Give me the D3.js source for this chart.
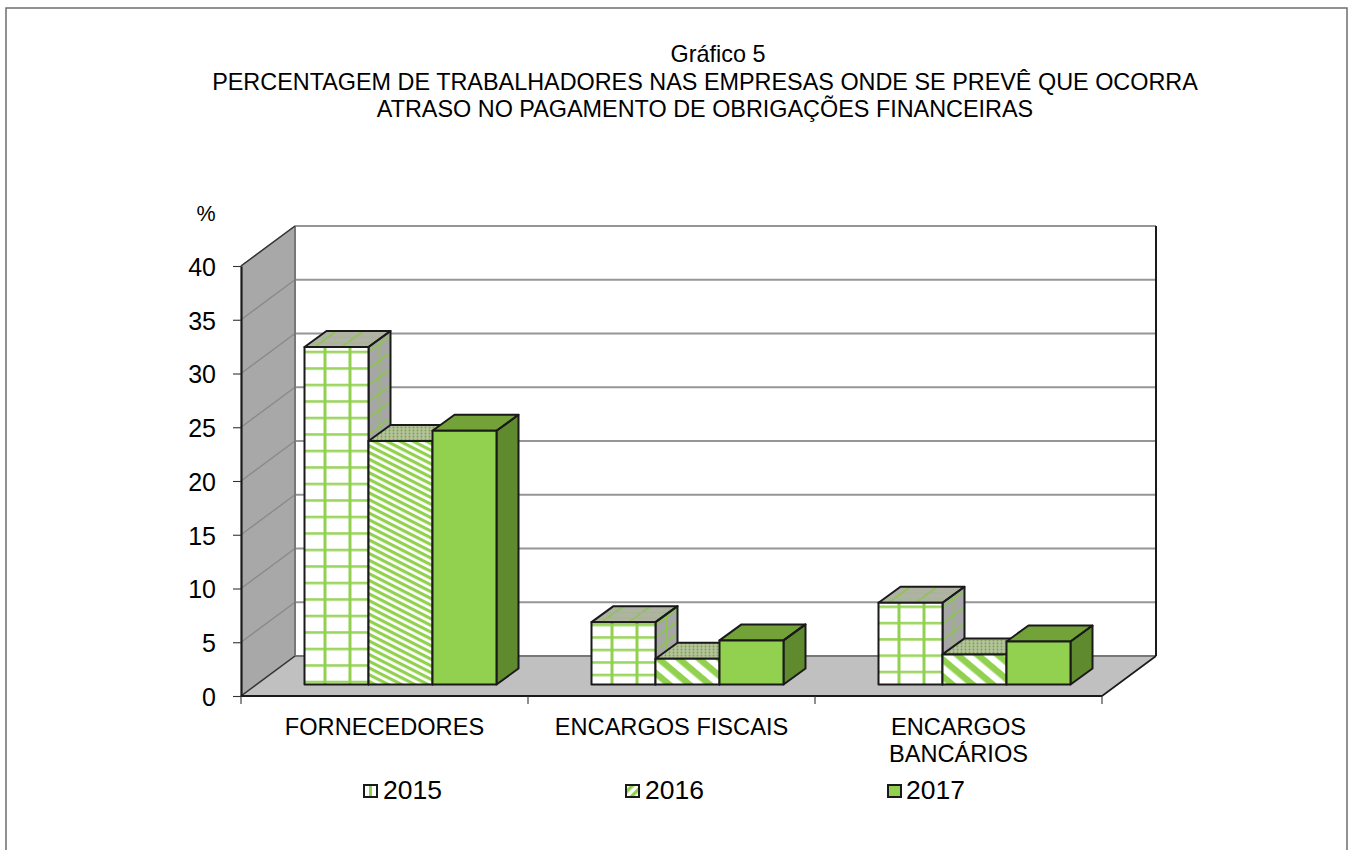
<!DOCTYPE html>
<html><head><meta charset="utf-8">
<script src="https://cdn.jsdelivr.net/npm/d3@7"></script>
<style>html,body{margin:0;padding:0;background:#fff}svg{display:block}text{font-family:"Liberation Sans",Arial,sans-serif;fill:#000}</style>
</head><body><div id="chart"></div>
<script>
const categories = ["FORNECEDORES","ENCARGOS FISCAIS","ENCARGOS|BANCÁRIOS"];
const years = ["2015","2016","2017"];
const values2015 = [31.4,5.8,7.6];
const values2016 = [22.65,2.4,2.8];
const values2017 = [23.6,4.1,4.0];
const yTicks = [0,5,10,15,20,25,30,35,40];
const titleLines = ["Gráfico 5","PERCENTAGEM DE TRABALHADORES NAS EMPRESAS ONDE SE PREVÊ QUE OCORRA","ATRASO NO PAGAMENTO DE OBRIGAÇÕES FINANCEIRAS"];
const series = [values2015,values2016,values2017];

const W=1354,H=850,green="#92d14f",dark1="#73a338",dark2="#5f8a2e",line="#1a1a1a",grid="#969696",hatch="#8fc455";
const svg=d3.select("#chart").append("svg").attr("width",W).attr("height",H);
const defs=svg.append("defs");
function pat(id,w,h,bg,draw,tr){const p=defs.append("pattern").attr("id",id).attr("patternUnits","userSpaceOnUse").attr("width",w).attr("height",h);if(tr)p.attr("patternTransform",tr);p.append("rect").attr("width",w).attr("height",h).attr("fill",bg);draw(p);}

const rowPeriod=[16.5,12.5,16.3], rowPhase=[682,675,672];
rowPeriod.forEach((rp,i)=>{
  pat("grid"+i,287,rp,"#fff",p=>{
    p.append("rect").attr("width",287).attr("height",2.6).attr("fill",green).attr("opacity",.9);
    p.append("rect").attr("width",3).attr("height",rp).attr("fill",green);
    p.append("rect").attr("x",25).attr("width",3).attr("height",rp).attr("fill",green);
  },`translate(323.5,${rowPhase[i]-1.3})`);
});
pat("diag",6,6,"#fff",p=>{p.append("rect").attr("width",6).attr("height",3.2).attr("fill",green);},"rotate(27)");
pat("diagBig",13,13,"#fff",p=>{p.append("rect").attr("width",13).attr("height",6.5).attr("fill",green);},"rotate(40)");
pat("dots",4,3,"#b3c49a",p=>{p.append("circle").attr("cx",1.5).attr("cy",1.5).attr("r",1).attr("fill","#7f9f5a");});
pat("legA",15,15,"#fff",p=>{p.append("rect").attr("x",5).attr("width",3).attr("height",15).attr("fill",green);},"translate(364,785)");
pat("legB",7,7,"#fff",p=>{p.append("rect").attr("width",7).attr("height",3.5).attr("fill",green);},"rotate(-45)");

// Scales
const depth={dx:54,dy:-40};
const y=d3.scaleLinear().domain([0,40]).range([696,266]);
const x=d3.scaleBand().domain(categories).range([241,1102]);
const barW=64, barOff={dx:16,dy:-11.5}, barDepth={dx:22,dy:-16};
const pts=a=>a.map(p=>p.join(",")).join(" ");

// Frame
svg.append("rect").attr("x",6).attr("y",8).attr("width",1341).attr("height",850).attr("fill","#fff").attr("stroke","#6e6e6e").attr("stroke-width",1.5);

// Walls and floor
const x0=241,x1=1102;
svg.append("polygon").attr("points",pts([[x0+depth.dx,y(40)+depth.dy],[x1+depth.dx,y(40)+depth.dy],[x1+depth.dx,y(0)+depth.dy],[x0+depth.dx,y(0)+depth.dy]])).attr("fill","#fff");
svg.append("polygon").attr("points",pts([[x0,y(40)],[x0+depth.dx,y(40)+depth.dy],[x0+depth.dx,y(0)+depth.dy],[x0,y(0)]])).attr("fill","#a8a8a8");
svg.append("polygon").attr("points",pts([[x0,y(0)],[x0+depth.dx,y(0)+depth.dy],[x1+depth.dx,y(0)+depth.dy],[x1,y(0)]])).attr("fill","#c0c0c0");
// Gridlines
yTicks.forEach(t=>{
  const yy=y(t);
  svg.append("line").attr("x1",x0).attr("y1",yy).attr("x2",x0+depth.dx).attr("y2",yy+depth.dy).attr("stroke","#8a8a8a").attr("stroke-width",1.4);
  svg.append("line").attr("x1",x0+depth.dx).attr("y1",yy+depth.dy).attr("x2",x1+depth.dx).attr("y2",yy+depth.dy).attr("stroke",t===0?"#777":grid).attr("stroke-width",2);
});
// Wall edges
svg.append("line").attr("x1",x0+depth.dx).attr("x2",x0+depth.dx).attr("y1",y(40)+depth.dy).attr("y2",y(0)+depth.dy).attr("stroke","#777").attr("stroke-width",2);
svg.append("line").attr("x1",x1+depth.dx).attr("x2",x1+depth.dx).attr("y1",y(40)+depth.dy).attr("y2",y(0)+depth.dy).attr("stroke",line).attr("stroke-width",2);
svg.append("line").attr("x1",x1+depth.dx).attr("y1",y(0)+depth.dy).attr("x2",x1).attr("y2",y(0)).attr("stroke",line).attr("stroke-width",1.6);
svg.append("line").attr("x1",x0).attr("x2",x0+depth.dx).attr("y1",y(40)).attr("y2",y(40)+depth.dy).attr("stroke","#333").attr("stroke-width",1.4);
svg.append("line").attr("x1",x0).attr("x2",x0+depth.dx).attr("y1",y(0)).attr("y2",y(0)+depth.dy).attr("stroke","#333").attr("stroke-width",1.4);

// Bars
const fronts=[["url(#grid0)","url(#diag)",green],["url(#grid1)","url(#diagBig)",green],["url(#grid2)","url(#diagBig)",green]];
categories.forEach((c,ci)=>{
  const gap=(x.bandwidth()-barW*3)/2;
  series.forEach((vals,si)=>{
    const v=vals[ci];
    const L=x(c)+gap+barOff.dx+si*barW, R=L+barW, B=y(0)+barOff.dy, T=y(v)+barOff.dy;
    const dx=barDepth.dx, dy=barDepth.dy;
    const sidePts=pts([[R,T],[R+dx,T+dy],[R+dx,B+dy],[R,B]]);
    const topPts=pts([[L,T],[L+dx,T+dy],[R+dx,T+dy],[R,T]]);
    const g=svg.append("g").attr("stroke-linejoin","round");
    const seg=(a,b,c2,d,col,w)=>g.append("line").attr("x1",a).attr("y1",b).attr("x2",c2).attr("y2",d).attr("stroke",col).attr("stroke-width",w);
    g.append("polygon").attr("points",sidePts).attr("fill",si===2?dark2:"#a6a6a6");
    g.append("polygon").attr("points",topPts).attr("fill",si===2?dark1:si===1?"url(#dots)":"#b0b2a4");
    if(si===0){
      // hatch on the side face
      seg(R+dx/2,T+dy/2,R+dx/2,B+dy/2,hatch,1.6);
      for(let yy=rowPhase[ci];yy>T;yy-=rowPeriod[ci]) seg(R,yy,R+dx,yy+dy,hatch,1.6);
      // hatch on the top face
      [10,37].forEach(o=>seg(L+o,T,L+o+dx,T+dy,hatch,1.8));
      seg(R,T,R+dx,T+dy,hatch,1.8);
      seg(L+dx*.25,T+dy*.25,R+dx*.25,T+dy*.25,"#a3b592",1);
      seg(L+dx*.6,T+dy*.6,R+dx*.6,T+dy*.6,"#a3b592",1);
    }
    const o=svg.append("g").attr("stroke",line).attr("stroke-width",2).attr("stroke-linejoin","round");
    o.append("polygon").attr("points",sidePts).attr("fill","none");
    o.append("polygon").attr("points",topPts).attr("fill","none");
    o.append("rect").attr("x",L).attr("y",T).attr("width",barW).attr("height",B-T).attr("fill",fronts[ci][si]);
  });
});

// Axes
const yAxis=d3.axisLeft(y).tickValues(yTicks).tickSize(8).tickPadding(17).tickSizeOuter(0);
const ga=svg.append("g").attr("transform",`translate(${x0},0)`).call(yAxis);
ga.selectAll("text").style("font-size","25px").attr("dy","0.37em");
ga.selectAll("line").attr("stroke","#333").attr("stroke-width",1.1);
ga.select(".domain").attr("stroke",line).attr("stroke-width",2.2);
const xAxisTicks=[x0,...categories.map(c=>x(c)+x.bandwidth())];
svg.append("line").attr("x1",x0).attr("x2",x1).attr("y1",y(0)).attr("y2",y(0)).attr("stroke",line).attr("stroke-width",2);
xAxisTicks.forEach(t=>svg.append("line").attr("x1",t).attr("x2",t).attr("y1",696).attr("y2",704).attr("stroke","#333").attr("stroke-width",1.1));
categories.forEach(c=>{
  const parts=c.split("|"),cx=x(c)+x.bandwidth()/2;
  parts.forEach((p,i)=>svg.append("text").attr("x",cx).attr("y",735+i*26.5).attr("text-anchor","middle").style("font-size","23.6px").text(p));
});

// Title
const titleX=[718,705,705];
titleLines.forEach((t,i)=>svg.append("text").attr("x",titleX[i]).attr("y",[62,90,117][i]).attr("text-anchor","middle").style("font-size","23.4px").text(t));
svg.append("text").attr("x",206).attr("y",221).attr("text-anchor","middle").style("font-size","21.5px").text("%");

// Legend
const legX=[364,626,888], legT=[383,645,906];
years.forEach((yr,i)=>{
  svg.append("rect").attr("x",legX[i]).attr("y",785).attr("width",13).attr("height",12).attr("fill",["url(#legA)","url(#legB)",green][i]).attr("stroke",line).attr("stroke-width",2);
  svg.append("text").attr("x",legT[i]).attr("y",799).style("font-size","26.5px").text(yr);
});
</script></body></html>
